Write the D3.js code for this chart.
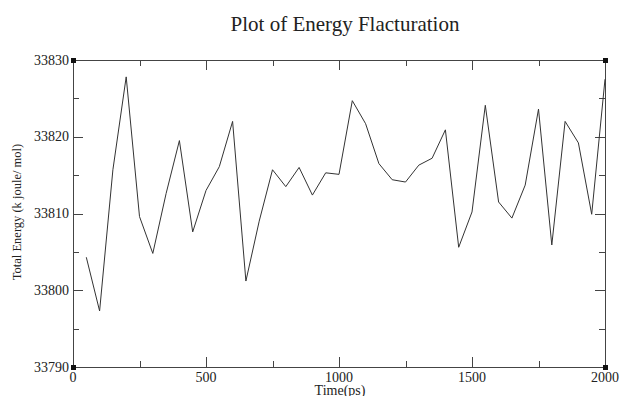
<!DOCTYPE html>
<html><head><meta charset="utf-8">
<script src="https://cdn.jsdelivr.net/npm/d3@7"></script>
<style>body{margin:0;background:#fff}svg{display:block}text{font-family:"Liberation Serif","Times New Roman",serif;fill:#222}</style>
</head><body><svg id="c" width="621" height="396"></svg>
<script>
const times = [50,100,150,200,250,300,350,400,450,500,550,600,650,700,750,800,850,900,950,1000,
  1050,1100,1150,1200,1250,1300,1350,1400,1450,1500,1550,1600,1650,1700,1750,1800,1850,1900,1950,2000];
const energy = [33804.3,33797.3,33815.7,33827.8,33809.6,33804.8,33812.6,33819.5,33807.6,33813.0,
  33816.1,33822.0,33801.2,33809.0,33815.7,33813.5,33816.0,33812.4,33815.3,33815.1,
  33824.7,33821.7,33816.5,33814.4,33814.1,33816.3,33817.2,33820.9,33805.6,33810.2,
  33824.1,33811.5,33809.4,33813.7,33823.6,33805.9,33822.0,33819.2,33809.9,33827.5];
const xMajor = [0,500,1000,1500,2000];
const xMinor = [250,750,1250,1750];
const yMajor = [33790,33800,33810,33820,33830];
const yMinor = [33795,33805,33815,33825];
const title = "Plot of Energy Flacturation";
const xLabel = "Time(ps)";
const yLabel = "Total Energy (k joule/ mol)";

const svg = d3.select("#c");
const L=73, R=605, T=60, B=367;
const x = d3.scaleLinear().domain([0,2000]).range([L,R]);
const y = d3.scaleLinear().domain([33790,33830]).range([B,T]);

const g = svg.append("g").attr("stroke","#444").attr("stroke-width",1);
function tk(vals,len,axis){
  vals.forEach(v=>{
    if(axis==="x"){
      const px=Math.round(x(v))+0.5;
      g.append("line").attr("x1",px).attr("x2",px).attr("y1",B).attr("y2",B-len);
      g.append("line").attr("x1",px).attr("x2",px).attr("y1",T).attr("y2",T+len);
    } else {
      const py=Math.round(y(v))+0.5;
      g.append("line").attr("x1",L).attr("x2",L+len).attr("y1",py).attr("y2",py);
      g.append("line").attr("x1",R).attr("x2",R-len).attr("y1",py).attr("y2",py);
    }
  });
}
tk(xMajor,10,"x"); tk(xMinor,6,"x"); tk(yMajor,10,"y"); tk(yMinor,6,"y");

svg.append("rect").attr("x",L+0.5).attr("y",T+0.5).attr("width",R-L).attr("height",B-T)
  .attr("fill","none").attr("stroke","#444").attr("stroke-width",1);

[[L,T],[R,T],[L,B],[R,B]].forEach(([cx,cy])=>{
  svg.append("rect").attr("x",cx-2).attr("y",cy-2).attr("width",5).attr("height",5).attr("fill","#111");
});

svg.append("path").datum(times.map((t,i)=>[t,energy[i]]))
  .attr("d",d3.line().x(d=>x(d[0])).y(d=>y(d[1])))
  .attr("fill","none").attr("stroke","#333").attr("stroke-width",1);

xMajor.forEach(v=>svg.append("text").attr("x",x(v)).attr("y",382).attr("text-anchor","middle")
  .attr("font-size",14).text(v));
yMajor.forEach(v=>svg.append("text").attr("x",L-4).attr("y",y(v)+4.5).attr("text-anchor","end")
  .attr("font-size",14).text(v));

svg.append("text").attr("x",345).attr("y",31).attr("text-anchor","middle").attr("font-size",21).text(title);
svg.append("text").attr("x",340).attr("y",395).attr("text-anchor","middle").attr("font-size",14).text(xLabel);
svg.append("text").attr("transform","translate(21,212) rotate(-90)").attr("text-anchor","middle")
  .attr("font-size",12.5).text(yLabel);
</script></body></html>
